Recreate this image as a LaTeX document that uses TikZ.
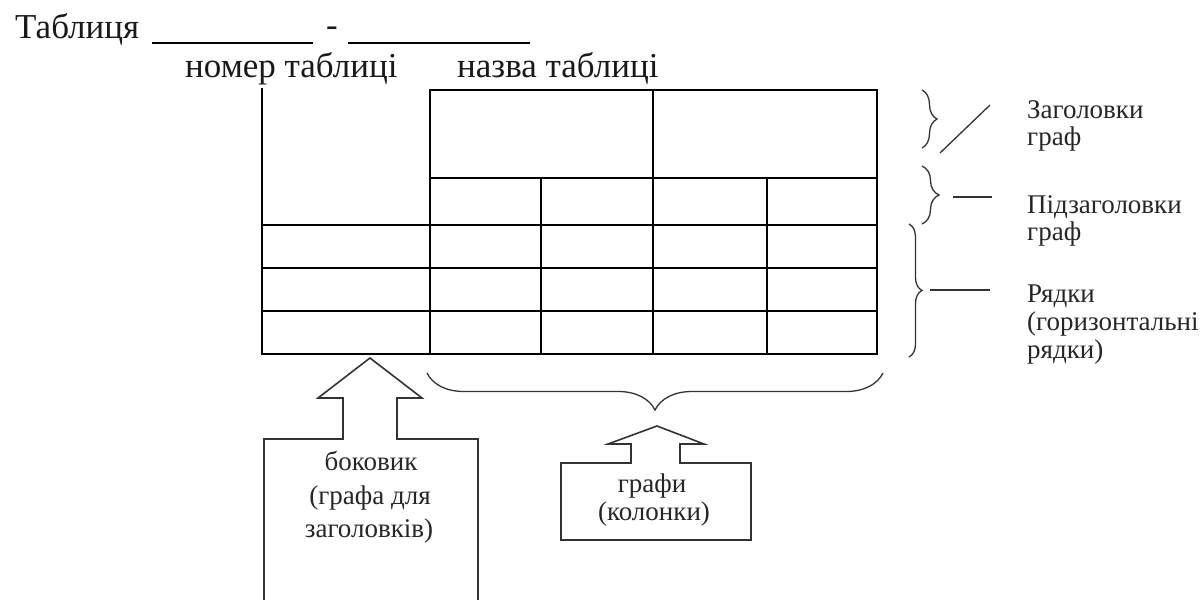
\documentclass[tikz,border=0pt]{standalone}
\usepackage{fontspec}
\setmainfont{Liberation Serif}
\usetikzlibrary{decorations.pathreplacing}
\begin{document}
\begin{tikzpicture}[x=1pt,y=-1pt,
  grid/.style={line width=1.8pt,black},
  outl/.style={line width=1.6pt,black!80},
  brc/.style={line width=1.3pt,black!80,decorate},
  lnk/.style={line width=1.3pt,black!80},
  bigtxt/.style={font=\fontsize{35}{40}\selectfont,inner sep=0pt,text=black!90},
  lbl/.style={font=\fontsize{27}{32}\selectfont,inner sep=0pt,anchor=base west,text=black!85},
  boxtxt/.style={font=\fontsize{27}{32}\selectfont,inner sep=0pt,anchor=base,text=black!85}]
\useasboundingbox (0,0) rectangle (1200,600);
% title
\node[bigtxt,anchor=base west] (title) at (15,38) {Таблиця};
\coordinate (u1a) at (152,43); \coordinate (u1b) at (313,43);
\coordinate (u2a) at (348,43); \coordinate (u2b) at (530,43);
\draw[line width=1.5pt] (u1a) -- (u1b);
\draw[line width=1.5pt] (u2a) -- (u2b);
\node[bigtxt,anchor=base] (dash) at (332,36) {-};
\node[bigtxt,anchor=base west] (num) at (185,77) {номер таблиці};
\node[bigtxt,anchor=base west] (name) at (457,77) {назва таблиці};
% table
\draw[grid] (262,88) -- (262,354) -- (877,354) -- (877,90) -- (430,90) -- (430,354);
\draw[grid] (430,178) -- (877,178);
\draw[grid] (653,90) -- (653,354);
\draw[grid] (541,178) -- (541,354);
\draw[grid] (767,178) -- (767,354);
\foreach \yy in {225,268,311} \draw[grid] (262,\yy) -- (877,\yy);
% right braces
\draw[brc,decoration={brace,amplitude=15pt}] (922,90) -- (922,148);
\draw[brc,decoration={brace,amplitude=17pt}] (922,166) -- (922,224);
\draw[brc,decoration={brace,amplitude=13pt}] (909,224) -- (909,357);
\coordinate (s1) at (940,153); \coordinate (s2) at (990,105);
\draw[lnk] (s1) -- (s2);
\coordinate (h1) at (953,197); \coordinate (h2) at (992,197);
\draw[lnk] (h1) -- (h2);
\coordinate (r1) at (930,290); \coordinate (r2) at (990,290);
\draw[lnk] (r1) -- (r2);
\node[lbl] (l1a) at (1027,118) {Заголовки};
\node[lbl] (l1b) at (1027,145) {граф};
\node[lbl] (l2a) at (1027,213) {Підзаголовки};
\node[lbl] (l2b) at (1027,240) {граф};
\node[lbl] (l3a) at (1027,302) {Рядки};
\node[lbl] (l3b) at (1027,330) {(горизонтальні};
\node[lbl] (l3c) at (1027,358) {рядки)};
% bottom brace
\draw[brc,decoration={brace,amplitude=37pt}] (883,373) -- (427,373);
% block arrow 1
\draw[outl,line join=miter] (264,600) -- (264,439) -- (343,439) -- (343,398) -- (318,398) -- (370,358) -- (422,398) -- (397,398) -- (397,439) -- (478,439) -- (478,600);
\node[boxtxt] (b1a) at (371,470) {боковик};
\node[boxtxt] (b1b) at (370,504) {(графа для};
\node[boxtxt] (b1c) at (369,537) {заголовків)};
% block arrow 2
\draw[outl,line join=miter] (561,540) -- (561,463) -- (631,463) -- (631,444) -- (608,444) -- (657,426) -- (704,444) -- (680,444) -- (680,463) -- (751,463) -- (751,540) -- cycle;
\node[boxtxt] (b2a) at (652,492) {графи};
\node[boxtxt] (b2b) at (654,520) {(колонки)};
\end{tikzpicture}
\end{document}
